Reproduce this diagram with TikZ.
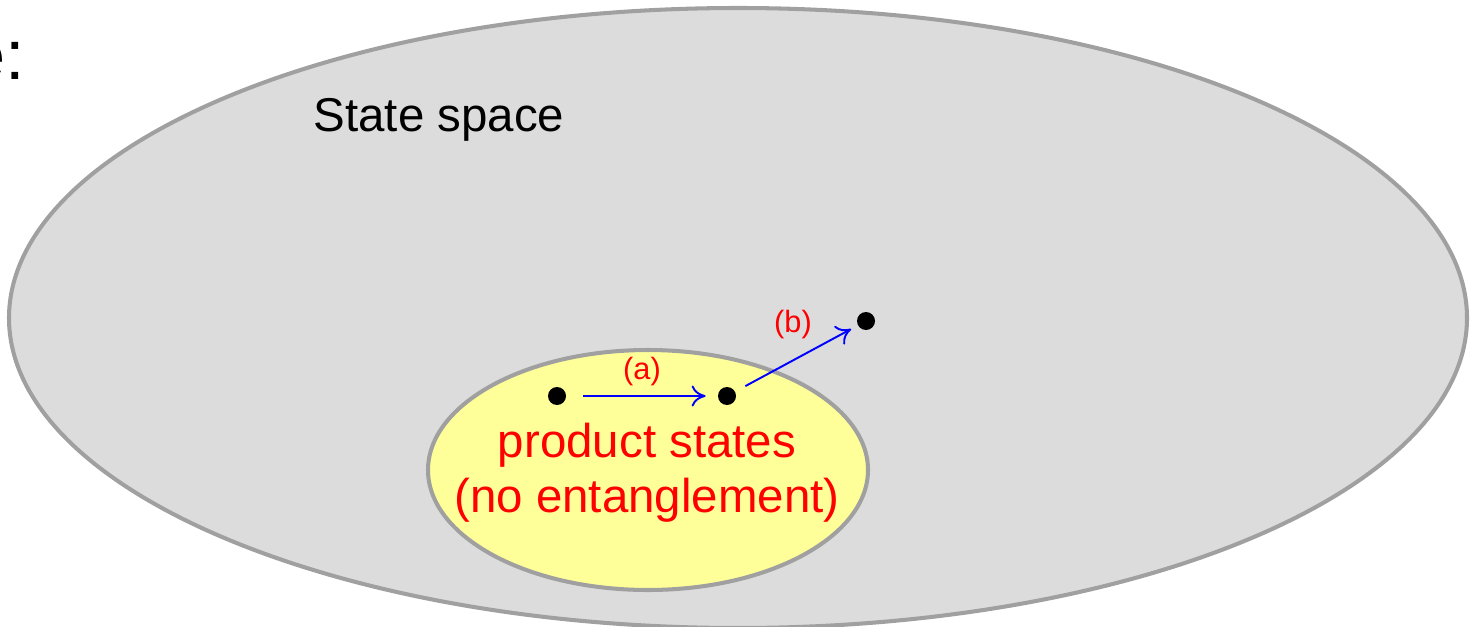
\documentclass[tikz,border=0pt]{standalone}
\usepackage{fontspec}
\setmainfont{Liberation Sans}
\usetikzlibrary{arrows.meta}
\definecolor{spacegray}{HTML}{DCDCDC}
\definecolor{rimgray}{HTML}{A0A0A0}
\definecolor{prodyellow}{HTML}{FFFF99}
\begin{document}
\begin{tikzpicture}
\useasboundingbox (0,0) rectangle (29.42,12.52);
\filldraw[fill = spacegray, draw = rimgray, line width = 2.3pt] (14.76,6.16) ellipse (14.58 and 6.2);
\filldraw[fill = prodyellow, draw = rimgray, line width = 2.3pt] (12.96,3.12) ellipse (4.4 and 2.4);
\node[anchor = base east, font = \fontsize{40}{48}\selectfont] (cut) at (0.62,10.92) {e:};
\node[font = \fontsize{27}{32}\selectfont] (space) at (8.78,10.12) {State space};
\node[text = red, font = \fontsize{27}{32}\selectfont] (prod) at (12.94,3.62) {product states};
\node[text = red, font = \fontsize{27}{32}\selectfont] (noent) at (12.94,2.52) {(no entanglement)};
\node[circle, fill = black, inner sep = 0pt, minimum size = 0.36cm] (s1) at (11.14,4.6) {};
\node[circle, fill = black, inner sep = 0pt, minimum size = 0.36cm] (s2) at (14.54,4.6) {};
\node[circle, fill = black, inner sep = 0pt, minimum size = 0.36cm] (s3) at (17.32,6.1) {};
\draw[blue, line width = 1.1pt, -{Computer Modern Rightarrow[length = 8pt, width = 12pt]}, shorten < = 0.34cm, shorten > = 0.24cm] (s1) -- (s2);
\draw[blue, line width = 1.1pt, -{Computer Modern Rightarrow[length = 8pt, width = 12pt]}, shorten < = 0.23cm, shorten > = 0.15cm] (s2) -- (s3);
\node[text = red, font = \fontsize{17.5}{21}\selectfont] (lbla) at (12.84,5.08) {(a)};
\node[text = red, font = \fontsize{17.5}{21}\selectfont] (lblb) at (15.86,6.02) {(b)};
\end{tikzpicture}
\end{document}
